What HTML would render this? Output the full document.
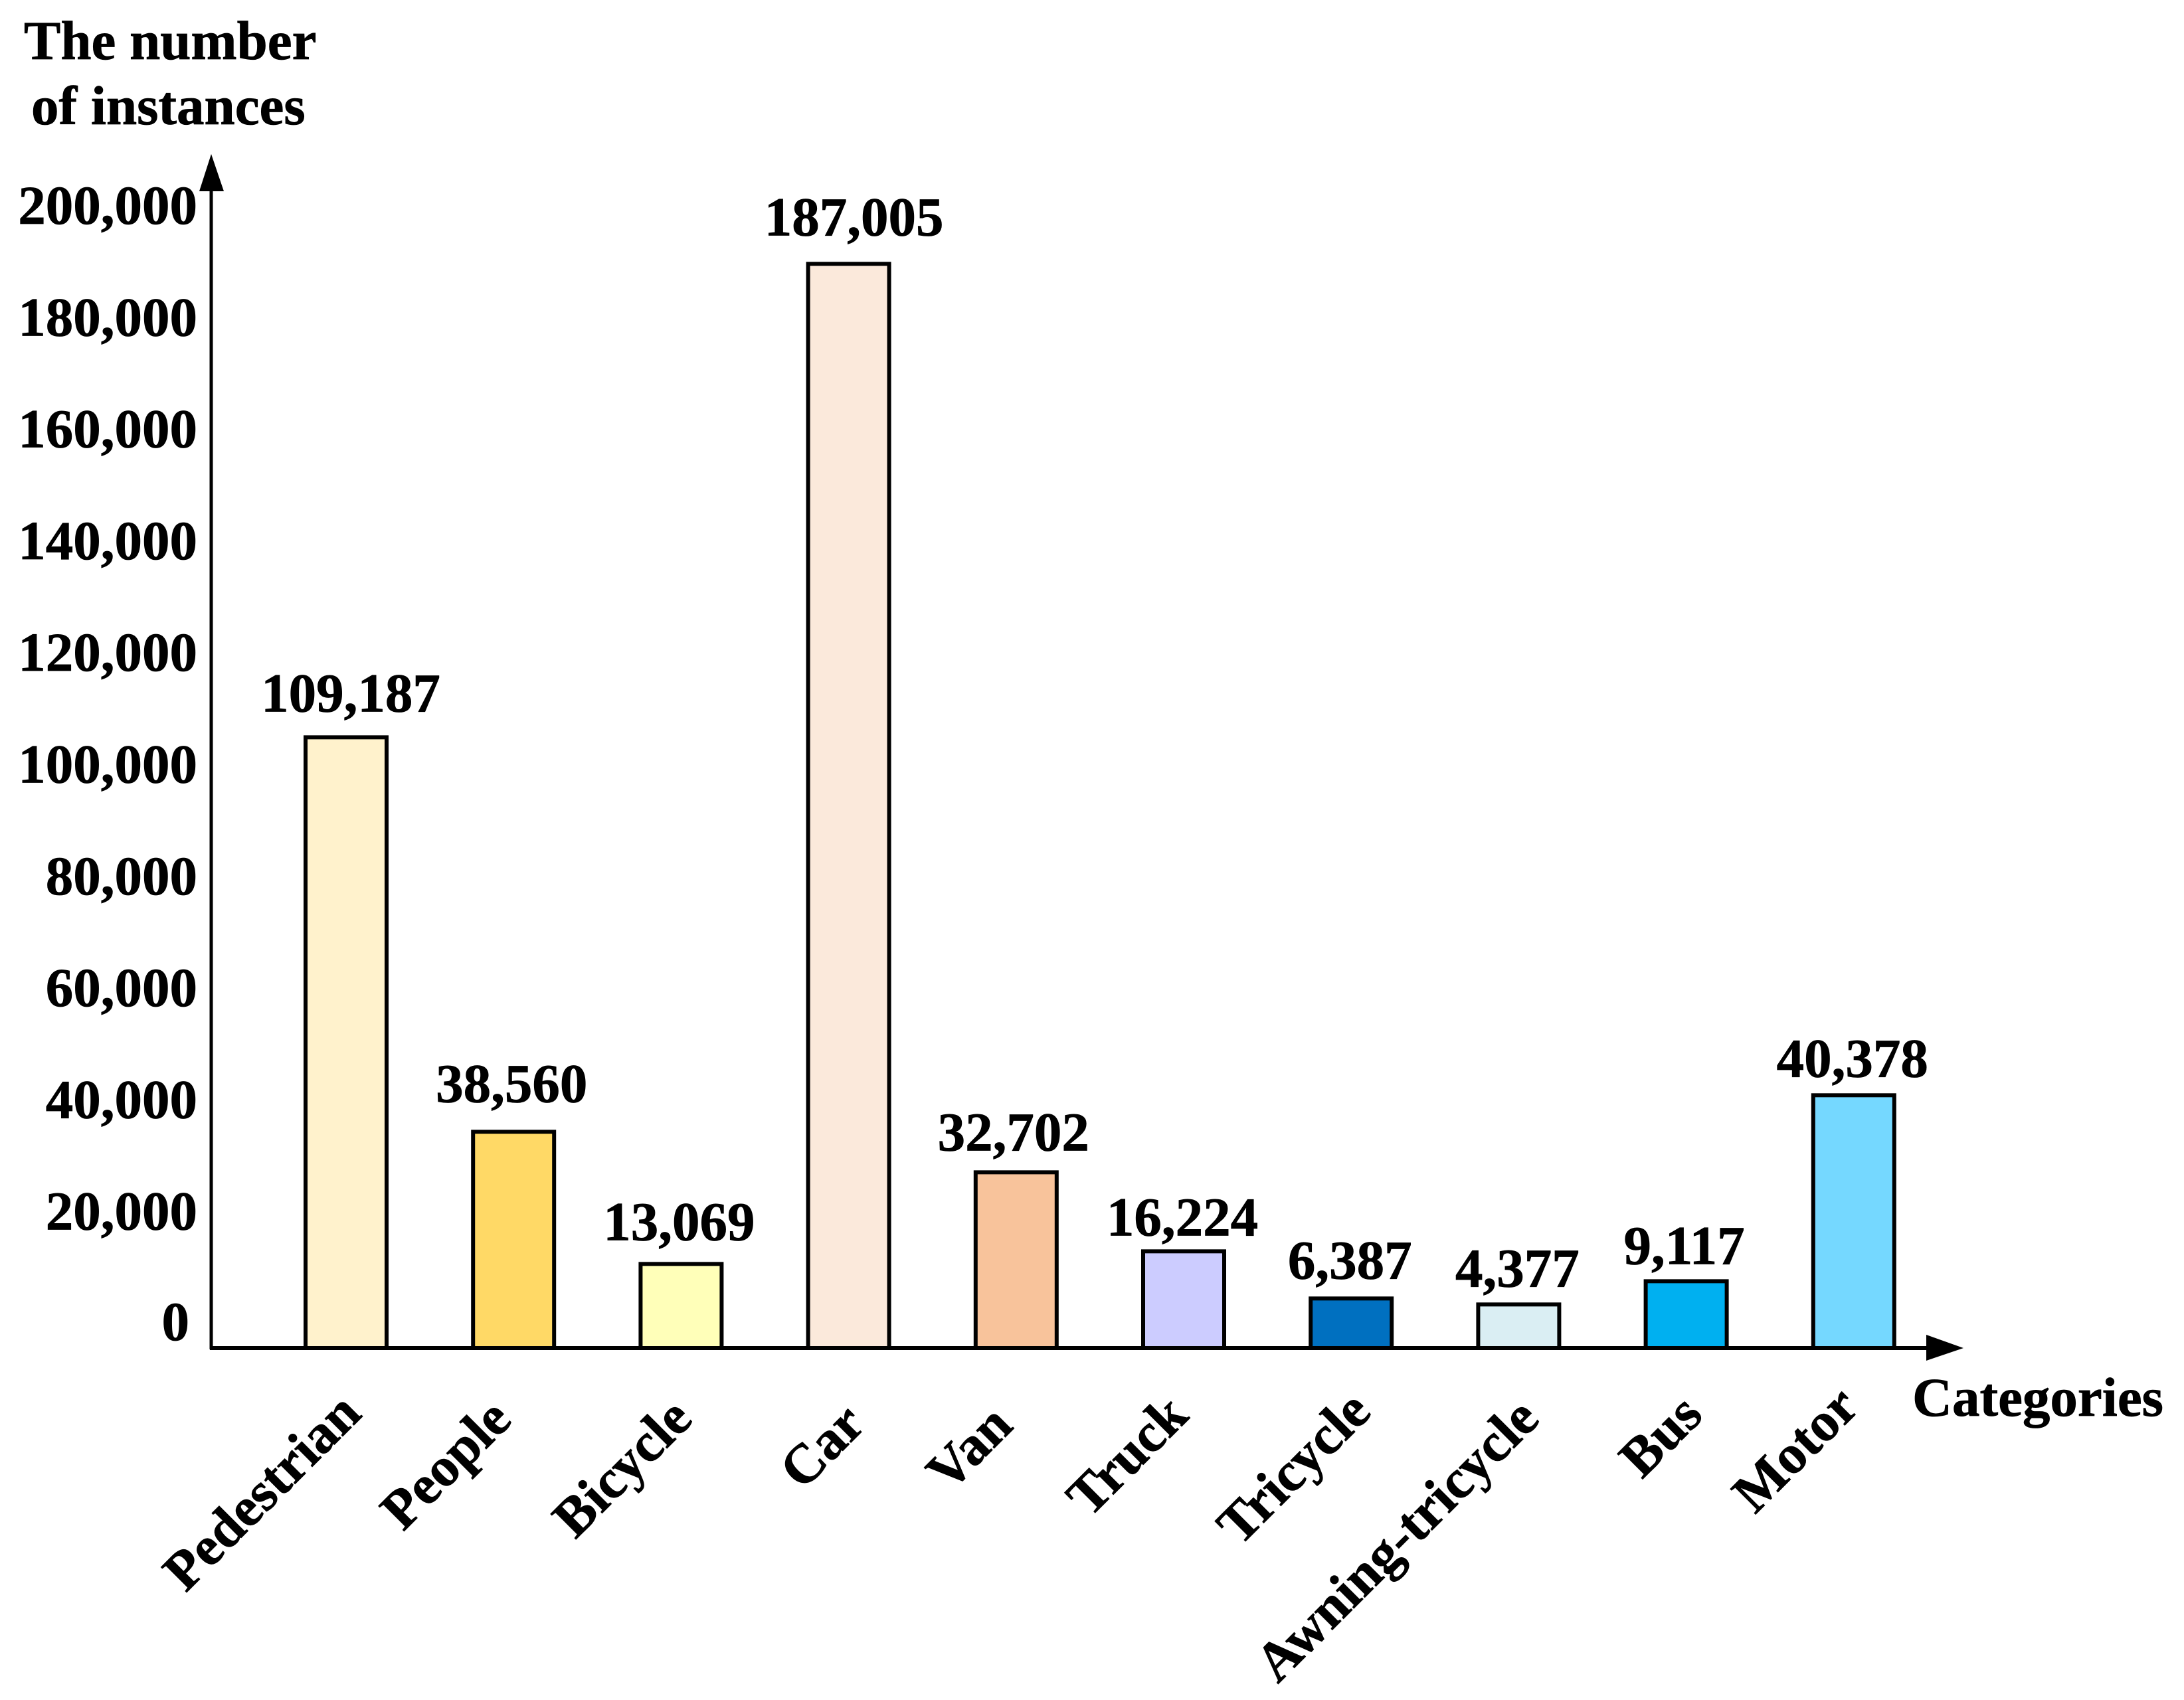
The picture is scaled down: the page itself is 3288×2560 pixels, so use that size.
<!DOCTYPE html>
<html lang="en">
<head>
<meta charset="utf-8">
<title>The number of instances per category</title>
<style>
html,body{margin:0;padding:0;background:#fff;}
svg{display:block;}
text{font-family:"Liberation Serif","Times New Roman",serif;font-weight:bold;fill:#000;stroke:#000;stroke-width:0.8px;}
</style>
</head>
<body>
<svg id="chart" xmlns="http://www.w3.org/2000/svg" width="3288" height="2560" viewBox="0 0 3288 2560">
  <rect x="0" y="0" width="3288" height="2560" fill="#ffffff"/>
  <text x="36" y="89" font-size="83">The number</text>
  <text x="47" y="187" font-size="83">of instances</text>
  <text x="2879" y="2132" font-size="83">Categories</text>
  <g id="bars"></g>
  <g id="value-labels"></g>
  <g id="y-ticks"></g>
  <g id="x-ticks"></g>
  <g>
    <line x1="318" y1="2032" x2="318" y2="280" stroke="#000" stroke-width="5"/>
    <polygon points="318,232 300,288 337,288" fill="#000"/>
    <line x1="316" y1="2030" x2="2905" y2="2030" stroke="#000" stroke-width="6"/>
    <polygon points="2956,2030 2900,2010 2900,2049" fill="#000"/>
  </g>
</svg>
<script>
const categories = ["Pedestrian","People","Bicycle","Car","Van","Truck","Tricycle","Awning-tricycle","Bus","Motor"];
const plottedValues = [109290,38700,15050,194020,31450,17310,8870,7800,11960,45240];
const printedValues = ["109,187","38,560","13,069","187,005","32,702","16,224","6,387","4,377","9,117","40,378"];
const tickValues = [0,20000,40000,60000,80000,100000,120000,140000,160000,180000,200000];
const tickLabels = ["0","20,000","40,000","60,000","80,000","100,000","120,000","140,000","160,000","180,000","200,000"];
const barColors = ["#FFF2CC","#FFD966","#FFFFB9","#FBE9DB","#F8C39B","#CCCCFF","#0070C0","#DAEEF3","#00B0F0","#75D8FF"];

const labelGaps = [39,45,36,43,33,24,30,27,26,28];
const labelShift = [7,-3,-3,8,-4,-2,-2,-2,-3,-2];
const catShiftX = [26,0,20,28,-2,10,33,34,28,11];
const catEndY = [2132,2141,2140,2148,2150,2135,2129,2140,2134,2122];

const SVG_NS = "http://www.w3.org/2000/svg";
const baseY = 2030;
const pxPerUnit = 1683 / 200000;
const firstCenter = 521;
const step = 252.2;
const barWidth = 122;
const fontSize = 83;

function yScale(v) { return baseY - v * pxPerUnit; }
function xScale(i) { return firstCenter + i * step; }

function makeText(content, x, y, anchor) {
  const t = document.createElementNS(SVG_NS, "text");
  t.textContent = content;
  t.setAttribute("x", x);
  t.setAttribute("y", y);
  t.setAttribute("font-size", fontSize);
  t.setAttribute("text-anchor", anchor);
  return t;
}

const barsGroup = document.getElementById("bars");
const valuesGroup = document.getElementById("value-labels");
const xTicksGroup = document.getElementById("x-ticks");
const yTicksGroup = document.getElementById("y-ticks");

categories.forEach(function (cat, i) {
  const slug = cat.toLowerCase();
  const cx = xScale(i);
  const top = yScale(plottedValues[i]);

  const r = document.createElementNS(SVG_NS, "rect");
  r.setAttribute("x", cx - barWidth / 2);
  r.setAttribute("y", top);
  r.setAttribute("width", barWidth);
  r.setAttribute("height", baseY - top);
  r.setAttribute("fill", barColors[i]);
  r.setAttribute("stroke", "#000");
  r.setAttribute("stroke-width", "6");
  
  
  barsGroup.appendChild(r);

  const v = makeText(printedValues[i], cx + labelShift[i], top - labelGaps[i], "middle");
  
  
  valuesGroup.appendChild(v);

  const ex = cx + catShiftX[i];
  const ey = catEndY[i];
  const c = makeText(cat, ex, ey, "end");
  c.setAttribute("transform", "rotate(-45 " + ex + " " + ey + ")");
  
  
  xTicksGroup.appendChild(c);
});

tickValues.forEach(function (v, i) {
  const right = v === 0 ? 285 : 297;
  const t = makeText(tickLabels[i], right, yScale(v) - (v === 0 ? 12 : 10), "end");
  
  
  yTicksGroup.appendChild(t);
});
</script>
</body>
</html>
